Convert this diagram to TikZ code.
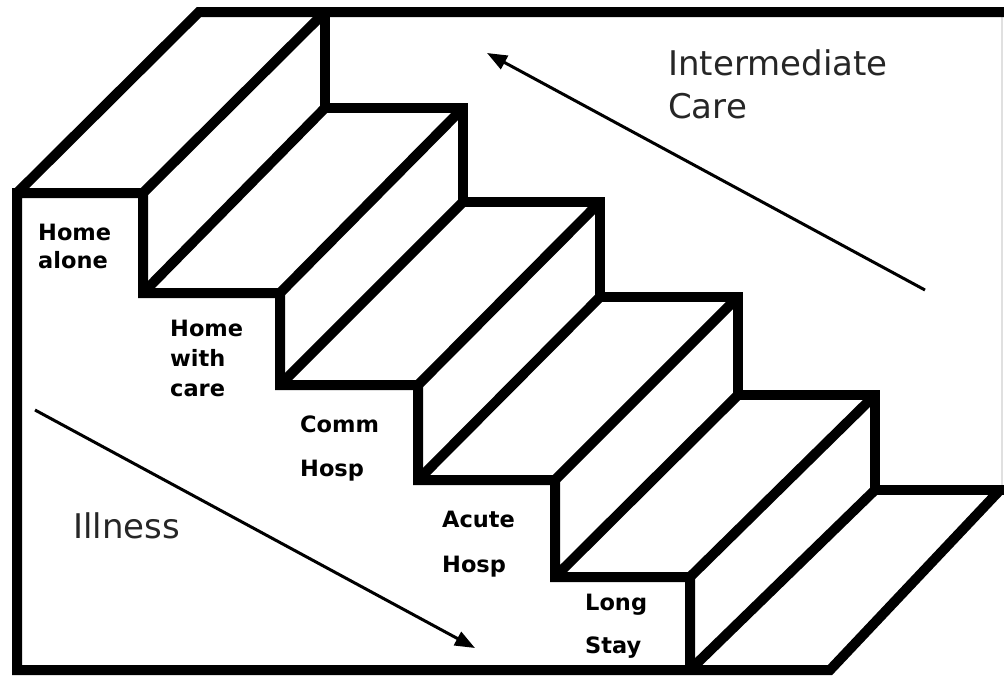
\documentclass[tikz,border=0pt]{standalone}
\usepackage{fontspec}
\setmainfont{DejaVu Sans}
\usetikzlibrary{arrows.meta}
\tikzset{
  edge/.style={line width=10pt, line join=miter, line cap=butt},
  flow/.style={line width=3pt, -{Triangle[length=20pt,width=15pt]}},
  stepname/.style={anchor=base west, inner sep=0pt, font=\bfseries\fontsize{22.5}{26}\selectfont},
  bigname/.style={anchor=base west, inner sep=0pt, font=\fontsize{34}{43}\selectfont, text=black!85},
}
\begin{document}
\begin{tikzpicture}[x=1pt,y=-1pt]
\useasboundingbox (0,0) rectangle (1004,675);
% front corners
\coordinate (f0) at (17,193);
\coordinate (f1) at (143,193);
\coordinate (f2) at (143,293);
\coordinate (f3) at (280,293);
\coordinate (f4) at (280,385);
\coordinate (f5) at (418,385);
\coordinate (f6) at (418,480);
\coordinate (f7) at (555,480);
\coordinate (f8) at (555,577);
\coordinate (f9) at (690,577);
\coordinate (f10) at (690,670);
\coordinate (f11) at (830,670);
\coordinate (fl) at (17,670);
% back corners
\coordinate (b0) at (199,12);
\coordinate (b1) at (325,12);
\coordinate (b2) at (325,108);
\coordinate (b3) at (463,108);
\coordinate (b4) at (463,202);
\coordinate (b5) at (600,202);
\coordinate (b6) at (600,297);
\coordinate (b7) at (738,297);
\coordinate (b8) at (738,395);
\coordinate (b9) at (875,395);
\coordinate (b10) at (875,490);
\coordinate (b11) at (1000,490);
\coordinate (br) at (1008,490);
\coordinate (tr) at (1008,12);
% faint right border
\draw[black!12, line width=1.2pt] (1002,12) -- (1002,490);
% front profile
\draw[edge] (b11) -- (f11) -- (fl) -- (f0) -- (f1) -- (f2) -- (f3) -- (f4) -- (f5) -- (f6) -- (f7) -- (f8) -- (f9) -- (f10);
% back profile
\draw[edge] (f0) -- (b0) -- (tr);
\draw[edge] (b1) -- (b2) -- (b3) -- (b4) -- (b5) -- (b6) -- (b7) -- (b8) -- (b9) -- (b10) -- (br);
% depth edges
\foreach \i in {1,...,10} {
  \draw[edge] (f\i) -- (b\i);
}
% arrows
\coordinate (ic1) at (925,290);
\coordinate (ic2) at (487,53);
\coordinate (il1) at (35,410);
\coordinate (il2) at (475,648);
\draw[flow] (ic1) -- (ic2);
\draw[flow] (il1) -- (il2);
% big labels
\node[bigname] (int1) at (668,75) {Intermediate};
\node[bigname] (int2) at (668,118) {Care};
\node[bigname] (ill) at (73,538) {Illness};
% step labels
\node[stepname] (ha1) at (38,240) {Home};
\node[stepname] (ha2) at (38,268) {alone};
\node[stepname] (hw1) at (170,336) {Home};
\node[stepname] (hw2) at (170,366) {with};
\node[stepname] (hw3) at (170,396) {care};
\node[stepname] (ch1) at (300,432) {Comm};
\node[stepname] (ch2) at (300,476) {Hosp};
\node[stepname] (ah1) at (442,527) {Acute};
\node[stepname] (ah2) at (442,572) {Hosp};
\node[stepname] (ls1) at (585,610) {Long};
\node[stepname] (ls2) at (585,653) {Stay};
\end{tikzpicture}
\end{document}
